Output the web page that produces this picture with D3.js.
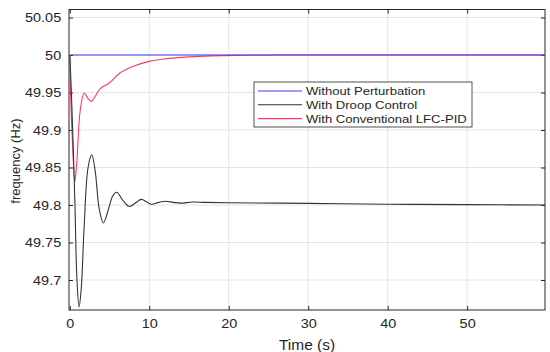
<!DOCTYPE html>
<html>
<head>
<meta charset="utf-8">
<script src="https://cdn.jsdelivr.net/npm/d3@7"></script>
<style>
  body { margin: 0; background: #fff; }
  text { font-family: "Liberation Sans", Arial, sans-serif; fill: #262626; }
</style>
</head>
<body>
<div id="chart"></div>
<script>
// data
var xTicks = [0, 10, 20, 30, 40, 50];
var yTicks = [49.7, 49.75, 49.8, 49.85, 49.9, 49.95, 50, 50.05];

var noPerturbation = [[0, 50], [59.8, 50]];

var droop = [
  [0, 50], [0.2, 49.95], [0.45, 49.87], [0.65, 49.8], [0.9, 49.7], [1.17, 49.664],
  [1.45, 49.69], [1.8, 49.77], [2.3, 49.85], [2.77, 49.867], [3.2, 49.845],
  [3.7, 49.795], [4.23, 49.776], [4.8, 49.792], [5.4, 49.812], [5.91, 49.817],
  [6.7, 49.806], [7.5, 49.798], [8.3, 49.803], [9.0, 49.8075], [9.7, 49.804],
  [10.3, 49.801], [11.2, 49.8035], [12, 49.805], [13, 49.8035], [13.9, 49.8025],
  [15.5, 49.804], [17, 49.8035], [20, 49.803], [30, 49.8022], [40, 49.801],
  [50, 49.8005], [59.8, 49.8]
];

var lfcPid = [
  [0, 50], [0.1, 49.95], [0.35, 49.88], [0.63, 49.831], [0.9, 49.86], [1.3, 49.925],
  [1.8, 49.949], [2.3, 49.942], [2.7, 49.938], [3.2, 49.945], [3.8, 49.955],
  [5, 49.963], [6.3, 49.976], [8, 49.985], [10, 49.9915], [12, 49.9948],
  [15, 49.9975], [18, 49.9989], [22, 49.9996], [26, 50], [59.8, 50]
];

var series = [
  {name: "Without Perturbation", values: noPerturbation, color: "#3b3bf5"},
  {name: "With Droop Control", values: droop, color: "#333333"},
  {name: "With Conventional LFC-PID", values: lfcPid, color: "#ff3b5c"}
];

var stretch = 1.12; // the figure's text is a bit wider than it is tall

var margin = {top: 9.5, right: 5, bottom: 42, left: 69},
  width = 550 - margin.left - margin.right,
  height = 352 - margin.top - margin.bottom;

var svg = d3.select('#chart')
  .append('svg')
  .attr('width', 550)
  .attr('height', 352)
  .append('g')
  .attr('transform', 'translate(' + margin.left + ',' + margin.top + ')');

var xScale = d3.scaleLinear().domain([-0.1, 59.8]).range([0, width]);
var yScale = d3.scaleLinear().domain([49.66, 50.0607]).range([height, 0]);

// grid
svg.append('g').selectAll('line').data(xTicks.slice(1)).enter().append('line')
  .attr('x1', function(d) { return xScale(d); })
  .attr('x2', function(d) { return xScale(d); })
  .attr('y1', 0).attr('y2', height)
  .style('stroke', '#e4e4e4');
svg.append('g').selectAll('line').data(yTicks).enter().append('line')
  .attr('y1', function(d) { return yScale(d); })
  .attr('y2', function(d) { return yScale(d); })
  .attr('x1', 0).attr('x2', width)
  .style('stroke', '#e4e4e4');

// axes with inward ticks, box style
function styleAxis(g) {
  g.select('.domain').remove();
  g.selectAll('.tick line').style('stroke', '#262626');
  g.selectAll('.tick text')
    .style('font-size', '12.9px')
    .style('font-family', '"Liberation Sans", Arial, sans-serif')
    .attr('fill', '#262626')
    .attr('transform', 'scale(' + stretch + ',1)');
}

svg.append('g')
  .attr('transform', 'translate(0,' + height + ')')
  .call(d3.axisBottom(xScale).tickValues(xTicks).tickSizeInner(-4).tickSizeOuter(0).tickPadding(9))
  .call(styleAxis);
svg.append('g')
  .call(d3.axisTop(xScale).tickValues(xTicks).tickSizeInner(-4).tickSizeOuter(0).tickFormat(''))
  .call(styleAxis);
svg.append('g')
  .call(d3.axisLeft(yScale).tickValues(yTicks).tickSizeInner(-4).tickSizeOuter(0).tickPadding(7).tickFormat(d3.format('~g')))
  .call(styleAxis);
svg.append('g')
  .attr('transform', 'translate(' + width + ',0)')
  .call(d3.axisRight(yScale).tickValues(yTicks).tickSizeInner(-4).tickSizeOuter(0).tickFormat(''))
  .call(styleAxis);

svg.append('rect')
  .attr('width', width).attr('height', height)
  .style('fill', 'none').style('stroke', '#262626').style('stroke-width', 1);

// lines
var line = d3.line()
  .x(function(d) { return xScale(d[0]); })
  .y(function(d) { return yScale(d[1]); })
  .curve(d3.curveCatmullRom.alpha(0.5));

svg.append('defs').append('clipPath').attr('id', 'clip')
  .append('rect').attr('width', width).attr('height', height);

svg.append('g').attr('clip-path', 'url(#clip)')
  .selectAll('path').data(series.slice().reverse()).enter().append('path')
  .attr('d', function(d) { return line(d.values); })
  .style('fill', 'none')
  .style('stroke', function(d) { return d.color; })
  .style('stroke-width', 1.1);

// legend
var legend = svg.append('g').attr('transform', 'translate(' + (254 - margin.left) + ',' + (82 - margin.top) + ')');
legend.append('rect')
  .attr('width', 218).attr('height', 45)
  .style('fill', '#fff').style('stroke', '#262626').style('stroke-width', 0.8);
var items = legend.selectAll('g.item').data(series).enter().append('g')
  .attr('transform', function(d, i) { return 'translate(0,' + (9 + i * 13.8) + ')'; });
items.append('line')
  .attr('x1', 4).attr('x2', 48)
  .style('stroke', function(d) { return d.color; })
  .style('stroke-width', 1.1);
items.append('g')
  .attr('transform', 'translate(52,0) scale(' + stretch + ',1)')
  .append('text')
  .attr('dy', '0.35em')
  .style('font-size', '11.7px')
  .text(function(d) { return d.name; });

// axis labels
svg.append('g')
  .attr('transform', 'translate(' + (width / 2) + ',' + (height + 35) + ') scale(' + stretch + ',1)')
  .append('text')
  .attr('text-anchor', 'middle')
  .attr('dy', '0.35em')
  .style('font-size', '13.8px')
  .text('Time (s)');
svg.append('text')
  .attr('transform', 'translate(' + (15 - margin.left) + ',' + (161 - margin.top) + ') rotate(-90)')
  .attr('text-anchor', 'middle')
  .attr('dy', '0.35em')
  .style('font-size', '13px')
  .text('frequency (Hz)');
</script>
</body>
</html>
